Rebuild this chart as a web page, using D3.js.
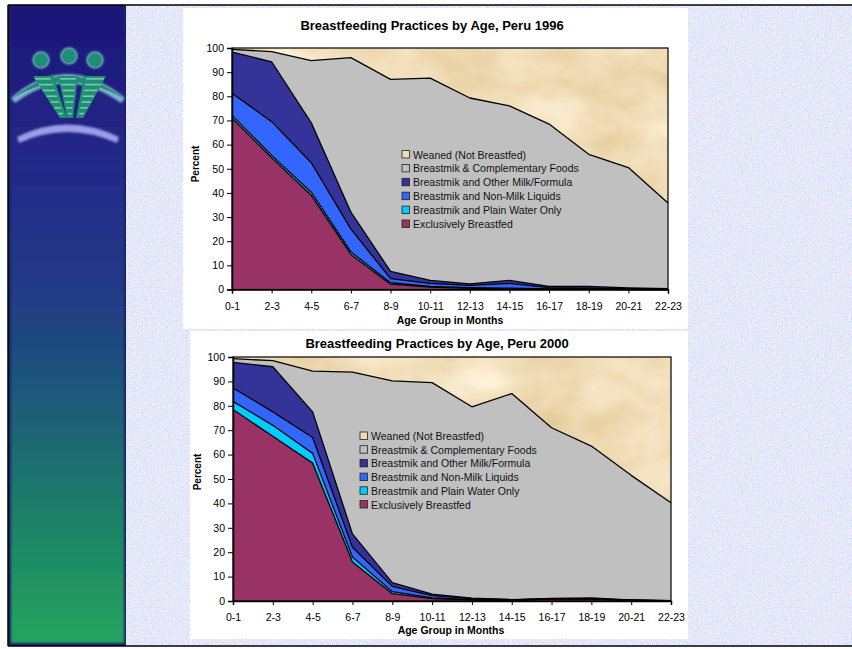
<!DOCTYPE html>
<html><head><meta charset="utf-8">
<script src="https://cdn.jsdelivr.net/npm/d3@7"></script>
<style>
html,body{margin:0;padding:0;background:#fff;}
svg{display:block;font-family:"Liberation Sans",Arial,sans-serif;}
</style></head>
<body>
<svg id="c" width="852" height="649"></svg>
<script>
// ---- data ----
const ageGroups = ["0-1","2-3","4-5","6-7","8-9","10-11","12-13","14-15","16-17","18-19","20-21","22-23"];
const seriesNames = ["Exclusively Breastfed","Breastmik and Plain Water Only","Breastmik and Non-Milk Liquids","Breastmik and Other Milk/Formula","Breastmik & Complementary Foods","Weaned (Not Breastfed)"];
const legendOrder = ["Weaned (Not Breastfed)","Breastmik & Complementary Foods","Breastmik and Other Milk/Formula","Breastmik and Non-Milk Liquids","Breastmik and Plain Water Only","Exclusively Breastfed"];
const yTicks = [0,10,20,30,40,50,60,70,80,90,100];

// Peru 1996 (percent in each category)
const ebf1996     = [71.0, 54.5, 39.0, 14.5, 2.2, 1.0, 0.5, 0.3, 0.2, 0.2, 0.0, 0.0];
const water1996   = [ 1.2,  1.0,  1.3,  1.1, 0.6, 0.3, 0.3, 0.3, 0.1, 0.1, 0.1, 0.0];
const nonmilk1996 = [ 9.1, 14.0, 12.2,  9.4, 1.7, 1.2, 0.9, 1.9, 0.5, 0.3, 0.2, 0.2];
const other1996   = [17.0, 24.8, 16.5,  7.0, 3.0, 1.3, 0.6, 1.3, 0.5, 0.7, 0.4, 0.2];
const comp1996    = [ 1.1,  4.2, 25.8, 64.0, 79.5, 83.7, 77.0, 72.2, 67.2, 54.7, 49.8, 35.4];
const weaned1996  = [ 0.6,  1.5,  5.2,  4.0, 13.0, 12.5, 20.7, 24.0, 31.5, 44.0, 49.5, 64.2];

// Peru 2000
const ebf2000     = [78.5, 67.5, 56.5, 16.0, 3.0, 1.0, 0.5, 0.3, 0.8, 0.8, 0.2, 0.0];
const water2000   = [ 3.3,  4.5,  4.0,  2.0, 0.8, 0.3, 0.1, 0.1, 0.1, 0.1, 0.1, 0.0];
const nonmilk2000 = [ 5.5,  5.5,  6.5,  4.0, 2.2, 0.9, 0.4, 0.1, 0.1, 0.1, 0.1, 0.1];
const other2000   = [10.5, 18.5, 10.5,  5.5, 1.5, 0.6, 0.2, 0.1, 0.1, 0.3, 0.0, 0.0];
const comp2000    = [ 1.5,  2.5, 16.7, 66.3, 82.7, 86.7, 78.4, 84.4, 69.9, 62.2, 51.1, 40.2];
const weaned2000  = [ 0.7,  1.5,  5.8,  6.2,  9.8, 10.5, 20.4, 15.0, 29.0, 36.5, 48.5, 59.7];

const colors = {
  "Exclusively Breastfed":"#993366",
  "Breastmik and Plain Water Only":"#00ccff",
  "Breastmik and Non-Milk Liquids":"#3366ff",
  "Breastmik and Other Milk/Formula":"#333399",
  "Breastmik & Complementary Foods":"#c0c0c0",
  "Weaned (Not Breastfed)":"#efd9ae"
};
const swatch = Object.assign({}, colors, {"Weaned (Not Breastfed)":"#f3dcb4"});

const svg = d3.select("#c");
const defs = svg.append("defs");

// parchment texture
const fp = defs.append("filter").attr("id","parchF").attr("x",0).attr("y",0).attr("width",1).attr("height",1).attr("color-interpolation-filters","sRGB");
fp.append("feTurbulence").attr("type","fractalNoise").attr("baseFrequency","0.012 0.02").attr("numOctaves",4).attr("seed",3).attr("result","n");
fp.append("feColorMatrix").attr("in","n").attr("type","matrix")
  .attr("values","0.15 0 0 0 0.87  0.22 0 0 0 0.76  0.35 0 0 0 0.55  0 0 0 0 1").attr("result","col");
fp.append("feComposite").attr("in","col").attr("in2","SourceGraphic").attr("operator","in");

// lavender background texture
const fb = defs.append("filter").attr("id","bgF").attr("x",0).attr("y",0).attr("width",1).attr("height",1).attr("color-interpolation-filters","sRGB");
fb.append("feTurbulence").attr("type","fractalNoise").attr("baseFrequency","0.8").attr("numOctaves",2).attr("seed",7).attr("result","n");
fb.append("feColorMatrix").attr("in","n").attr("type","matrix")
  .attr("values","0.35 0 0 0 0.72  0 0.3 0 0 0.76  0 0 0.1 0 0.93  0 0 0 0 1").attr("result","col");
fb.append("feComposite").attr("in","col").attr("in2","SourceGraphic").attr("operator","in");

// side panel gradient
const gp = defs.append("linearGradient").attr("id","sideG").attr("x1",0).attr("y1",0).attr("x2",0).attr("y2",1);
[[0,"#1d1478"],[0.25,"#232a8a"],[0.45,"#213b86"],[0.62,"#1d5b78"],[0.8,"#1e8068"],[1,"#22a45e"]]
  .forEach(s=>gp.append("stop").attr("offset",s[0]).attr("stop-color",s[1]));
const glow = defs.append("filter").attr("id","glow").attr("x","-30%").attr("y","-30%").attr("width","160%").attr("height","160%");
glow.append("feGaussianBlur").attr("stdDeviation",1.2);

// background
svg.append("rect").attr("x",0).attr("y",0).attr("width",852).attr("height",649).attr("fill","#fff");
svg.append("rect").attr("x",126).attr("y",5).attr("width",726).attr("height",641).attr("fill","#e3e8f6").attr("filter","url(#bgF)");

// side panel
svg.append("rect").attr("x",8).attr("y",5).attr("width",118).attr("height",641).attr("fill","#1a2466");
svg.append("rect").attr("x",11).attr("y",6).attr("width",113).attr("height",637).attr("fill","url(#sideG)").attr("filter","url(#glow)");

// logo
const logo = svg.append("g");
logo.append("path").attr("d","M11,98 Q66,50 125,98 L121,103 Q66,64 15,103 Z").attr("fill","#7fb0d0").attr("filter","url(#glow)");
logo.append("path").attr("d","M13,98 Q66,54 123,98 Q66,66 13,98 Z").attr("fill","#1f8f74");
[[41,60],[69,56],[95,60]].forEach(h=>{
  logo.append("circle").attr("cx",h[0]).attr("cy",h[1]).attr("r",8.5).attr("fill","#7ab8c8").attr("filter","url(#glow)");
  logo.append("circle").attr("cx",h[0]).attr("cy",h[1]).attr("r",7).attr("fill","#1f8f74");
});
// bodies: slanted striped trapezoids
[[33,53,60,67],[58,78,67,73],[84,106,76,83]].forEach(b=>{
  logo.append("path").attr("d",`M${b[0]},76 L${b[1]},76 L${b[3]},118 L${b[2]},118 Z`).attr("fill","#1f8f74");
  for(let k=0;k<7;k++){
    const t=k/7, y=78+k*5.8;
    const xl=b[0]+(b[2]-b[0])*t, xr=b[1]+(b[3]-b[1])*t;
    logo.append("rect").attr("x",xl+2).attr("y",y).attr("width",Math.max(2,xr-xl-4)).attr("height",1.6).attr("fill","#7cc8b0");
  }
});
logo.append("path").attr("d","M17,137 Q67,112 119,137 L117,143 Q67,121 19,143 Z").attr("fill","#9a9ce8").attr("filter","url(#glow)");

// frame lines
svg.append("line").attr("x1",8).attr("x2",852).attr("y1",5).attr("y2",5).attr("stroke","#000").attr("stroke-width",1.5);
svg.append("line").attr("x1",8).attr("x2",8).attr("y1",5).attr("y2",646).attr("stroke","#000").attr("stroke-width",1.5);
svg.append("line").attr("x1",8).attr("x2",852).attr("y1",646).attr("y2",646).attr("stroke","#000").attr("stroke-width",1.5);

function drawChart(cfg){
  const g = svg.append("g");
  g.append("rect").attr("x",cfg.box[0]).attr("y",cfg.box[1]).attr("width",cfg.box[2]).attr("height",cfg.box[3]).attr("fill","#fff");
  const x = d3.scalePoint().domain(ageGroups).range([cfg.px0,cfg.px1]);
  const y = d3.scaleLinear().domain([0,100]).range([cfg.py1,cfg.py0]);
  const rows = ageGroups.map((a,i)=>{const r={age:a}; seriesNames.forEach((s,j)=>r[s]=cfg.data[j][i]); return r;});
  const stack = d3.stack().keys(seriesNames)(rows);
  const area = d3.area().x(d=>x(d.data.age)).y0(d=>y(d[0])).y1(d=>y(Math.min(100,d[1])));
  const line = d3.line().x(d=>x(d.data.age)).y(d=>y(Math.min(100,d[1])));
  stack.forEach(s=>{
    const p = g.append("path").datum(s).attr("d",area).attr("fill",colors[s.key]);
    if(s.key==="Weaned (Not Breastfed)") p.attr("filter","url(#parchF)");
  });
  stack.forEach(s=>{
    if(s.key==="Weaned (Not Breastfed)") return;
    g.append("path").datum(s).attr("d",line).attr("fill","none").attr("stroke","#000").attr("stroke-width",1.3).attr("stroke-linejoin","round");
  });
  g.append("rect").attr("x",cfg.px0).attr("y",cfg.py0).attr("width",cfg.px1-cfg.px0).attr("height",cfg.py1-cfg.py0).attr("fill","none").attr("stroke","#000").attr("stroke-width",1.2);
  // axes
  const ya = g.append("g").attr("transform",`translate(${cfg.px0},0)`).call(d3.axisLeft(y).tickValues(yTicks).tickSize(5).tickPadding(3));
  const xa = g.append("g").attr("transform",`translate(0,${cfg.py1})`).call(d3.axisBottom(x).tickSize(4).tickPadding(9));
  [ya,xa].forEach(a=>{a.select(".domain").attr("stroke","#000").attr("stroke-width",1.5);
    a.selectAll(".tick line").attr("stroke","#000");
    a.selectAll("text").attr("fill","#000").style("font-size","10.5px").style("font-family","'Liberation Sans',Arial,sans-serif");});
  // titles
  g.append("text").attr("x",cfg.titleX).attr("y",cfg.titleY).attr("text-anchor","middle").attr("font-weight","bold").attr("font-size","13px").text(cfg.title);
  g.append("text").attr("transform",`translate(${cfg.ylX},${cfg.ylY}) rotate(-90)`).attr("text-anchor","middle").attr("font-weight","bold").attr("font-size","10px").text("Percent");
  g.append("text").attr("x",cfg.xlX).attr("y",cfg.xlY).attr("text-anchor","middle").attr("font-weight","bold").attr("font-size","10.5px").text("Age Group in Months");
  // legend
  const lg = g.append("g");
  legendOrder.forEach((k,i)=>{
    const yy = cfg.legY + i*cfg.legStep;
    lg.append("rect").attr("x",cfg.legX).attr("y",yy-4).attr("width",7.5).attr("height",7.5).attr("fill",swatch[k]).attr("stroke","#222").attr("stroke-width",0.8);
    lg.append("text").attr("x",cfg.legX+11).attr("y",yy+4).attr("font-size","10.5px").attr("fill","#111").text(k);
  });
}

drawChart({
  box:[183,8,505,321], px0:232, px1:668, py0:48, py1:289.5,
  data:[ebf1996,water1996,nonmilk1996,other1996,comp1996,weaned1996],
  title:"Breastfeeding Practices by Age, Peru 1996", titleX:432, titleY:30,
  ylX:199, ylY:164, xlX:450, xlY:324,
  legX:402, legY:154.5, legStep:13.9
});
drawChart({
  box:[190,331,498,308], px0:233, px1:671, py0:357, py1:601,
  data:[ebf2000,water2000,nonmilk2000,other2000,comp2000,weaned2000],
  title:"Breastfeeding Practices by Age, Peru 2000", titleX:437, titleY:348,
  ylX:201, ylY:472, xlX:451, xlY:634,
  legX:360, legY:436, legStep:13.7
});
</script>
</body></html>
